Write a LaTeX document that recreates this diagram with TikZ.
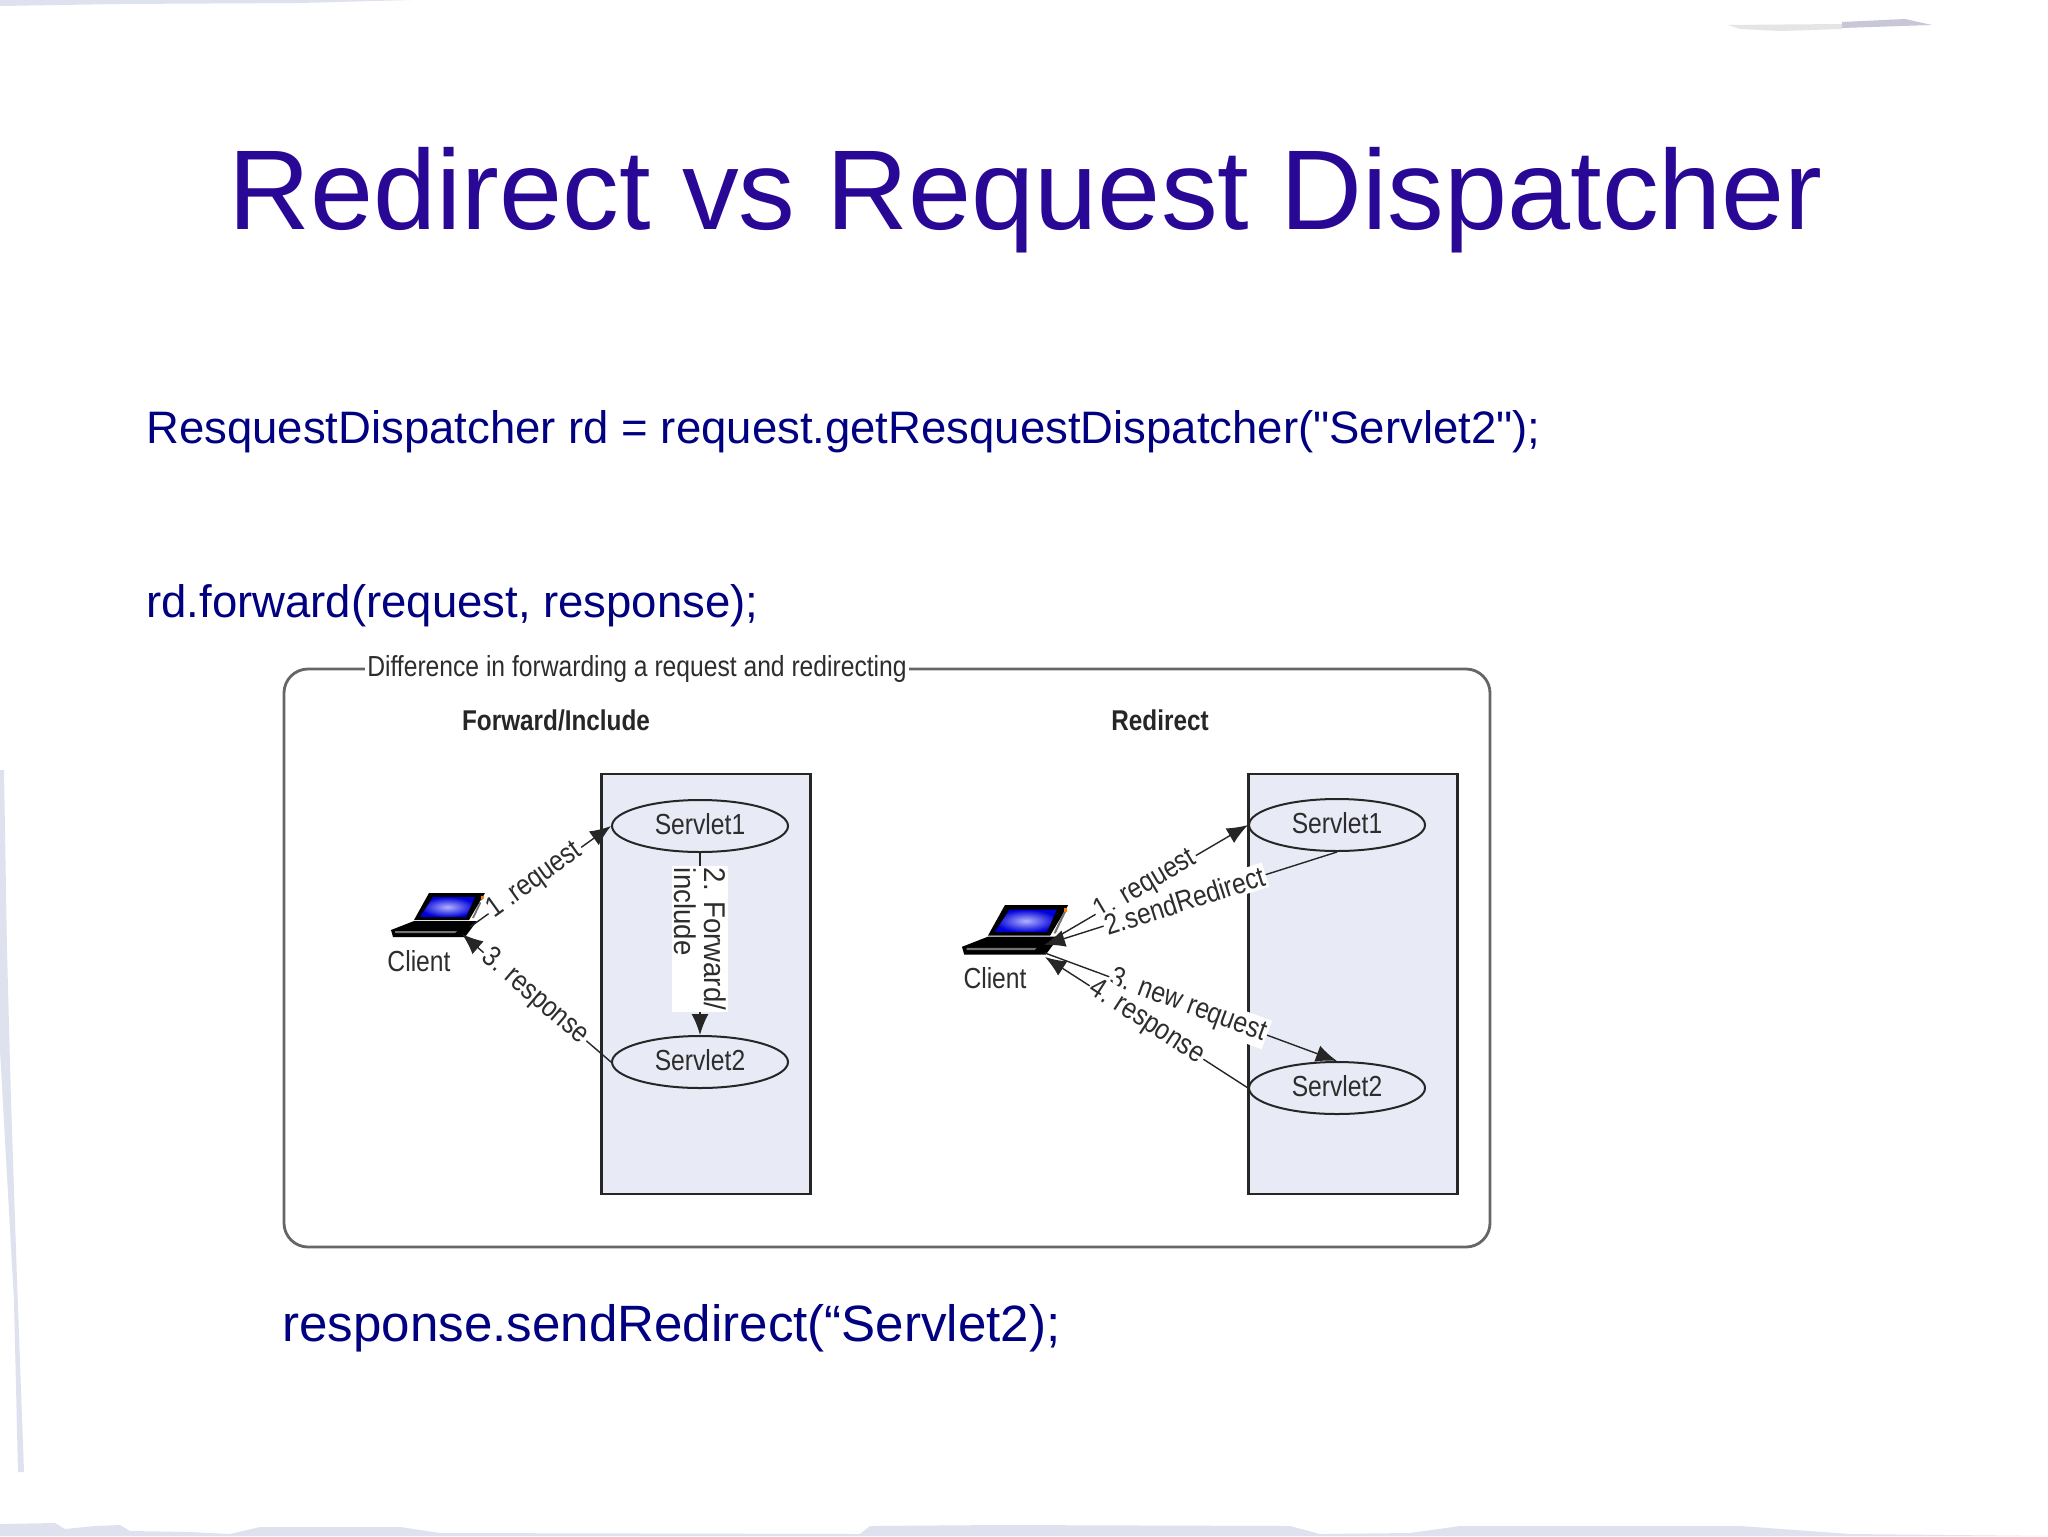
\documentclass[tikz,border=0pt]{standalone}
\usepackage{fontspec}
\setmainfont{Liberation Sans}
\newfontfamily\plainquote{Liberation Sans}
\newfontfamily\diagfont[FakeStretch=0.85]{Liberation Sans}
\newfontfamily\fwdfont[FakeStretch=0.92]{Liberation Sans}
\usetikzlibrary{shapes.geometric,arrows.meta}
\definecolor{titleblue}{RGB}{42,8,150}
\definecolor{bodyblue}{RGB}{0,0,128}
\definecolor{panelfill}{RGB}{232,235,245}
\definecolor{edgestroke}{RGB}{222,226,238}
\definecolor{difftext}{RGB}{45,45,45}
\tikzset{
  x=0.5pt,y=-0.5pt,
  titletext/.style={anchor=base west,inner sep=0,text=titleblue,font=\fontsize{56.7}{64}\selectfont},
  bodytext/.style={anchor=base west,inner sep=0,text=bodyblue,font=\fontsize{22.75}{28}\selectfont},
  bigtext/.style={anchor=base west,inner sep=0,text=bodyblue,font=\fontsize{25.55}{30}\selectfont},
  outerbox/.style={draw=black!60,line width=1.4pt,rounded corners=12pt,fill=white},
  panel/.style={draw=black!85,line width=1.1pt,fill=panelfill},
  servlet/.style={ellipse,draw=black!85,line width=1pt,fill=panelfill,minimum width=88pt,minimum height=26pt,inner sep=0,text depth=2pt,text=difftext,font=\diagfont\fontsize{14.5}{16}\selectfont},
  difflabel/.style={inner sep=1pt,text=difftext,font=\diagfont\fontsize{14.5}{16}\selectfont},
  headlabel/.style={inner sep=0,text=black!85,font=\diagfont\bfseries\fontsize{14.3}{16}\selectfont},
  onlabel/.style={fill=white,inner sep=1pt,text=difftext,font=\diagfont\fontsize{14.5}{16}\selectfont},
  conn/.style={draw=black!85,line width=0.7pt},
  arrowconn/.style={conn,-{Latex[length=10.5pt,width=8.5pt]}},
  pics/laptop/.style={code={
    \fill[black] (23,27)--(38,0)--(94,0)--(78,27)--cycle;
    \shade[inner color=blue!30!white,outer color=blue!85!black] (29,24)--(42,4)--(84,4)--(75,24)--cycle;
    \fill[black!55!white] (81,25)--(91,4)--(93,4)--(83,25)--cycle;
    \fill[orange] (90,3) rectangle (93,6);
    \fill[black] (0,37)--(23,28)--(86,28)--(74,44)--(2,44)--cycle;
    \fill[black!55] (4,38)--(66,38)--(64,40)--(4,40)--cycle;
  }},
}
\begin{document}
\begin{tikzpicture}
\useasboundingbox (0,0) rectangle (2048,1536);
\fill[white] (0,0) rectangle (2048,1536);
% faint slide-edge strokes
\fill[edgestroke] (0,0) -- (412,0) -- (300,3) -- (120,4) -- (0,6) -- cycle;
\fill[black!10] (1728,25) -- (1842,24) -- (1842,29) -- (1780,31) -- (1740,29) -- cycle;
\fill[blue!30!black!22] (1842,22) -- (1905,19) -- (1932,25) -- (1842,28) -- cycle;
\fill[edgestroke] (0,770) -- (4,770) -- (7,950) -- (11,1100) -- (17,1280) -- (24,1472) -- (18,1472) -- (14,1300) -- (5,1140) -- (0,1050) -- cycle;
\fill[edgestroke] (0,1536) -- (0,1524) -- (55,1523) -- (65,1529) -- (95,1526) -- (120,1525) -- (130,1531) -- (190,1532) -- (230,1534) -- (260,1527) -- (400,1527) -- (440,1533) -- (860,1534) -- (870,1526) -- (1000,1525) -- (1290,1526) -- (1320,1534) -- (1410,1533) -- (1460,1526) -- (1740,1526) -- (1850,1534) -- (2048,1536) -- cycle;

\node[titletext] (title) at (228,229) {Redirect vs Request Dispatcher};
\node[bodytext] (line1) at (146,443) {ResquestDispatcher rd = request.getResquestDispatcher({\plainquote "}Servlet2{\plainquote "});};
\node[bodytext] (line2) at (146,617) {rd.forward(request, response);};
\node[bigtext] (line3) at (282,1341) {response.sendRedirect(“Servlet2);};

\draw[outerbox] (284,669) rectangle (1490,1247);
\node[fill=white,inner xsep=1pt,inner ysep=2pt,text=difftext,font=\diagfont\fontsize{14.5}{16}\selectfont] (difftitle) at (637,669) {Difference in forwarding a request and redirecting};
\node[headlabel] (headfwd) at (556,720) {Forward/Include};
\node[headlabel] (headred) at (1160,720) {Redirect};

\node[panel,minimum width=104.5pt,minimum height=210pt,inner sep=0] (panelL) at (706,984) {};
\node[panel,minimum width=104.5pt,minimum height=210pt,inner sep=0] (panelR) at (1353,984) {};

\node[servlet] (s1L) at (700,826) {Servlet1};
\node[servlet] (s2L) at (700,1062) {Servlet2};
\node[servlet] (s1R) at (1337,825) {Servlet1};
\node[servlet] (s2R) at (1337,1088) {Servlet2};

% left client
\pic at (391,893) {laptop};
\node[difflabel] (clientL) at (419,961) {Client};
\coordinate (lapLout) at (470,927);
\coordinate (lapLin) at (462,934);
\draw[arrowconn] (lapLout) -- (s1L.west) node[onlabel,pos=0.46,sloped] {1 .request};
\draw[arrowconn] (s2L.west) -- (lapLin) node[onlabel,pos=0.51,sloped] {3. response};
\draw[arrowconn] (s1L.south) -- (s2L.north);
\node[onlabel,rotate=-90,align=left,font=\fwdfont\fontsize{15}{15}\selectfont] (fwd) at (700,939) {2. Forward/\\include};

% right client
\pic[scale=1.13] at (962,905) {laptop};
\node[difflabel] (clientR) at (995,978) {Client};
\coordinate (lapRa) at (1062,934);
\coordinate (lapRb) at (1044,945);
\coordinate (lapRc) at (1045,953);
\coordinate (lapRd) at (1045,957);
\draw[arrowconn] (lapRa) -- (s1R.west) node[onlabel,pos=0.45,sloped] {1. request};
\draw[arrowconn] (s1R.south) -- (lapRb) node[onlabel,pos=0.52,sloped,inner ysep=1pt] {2.sendRedirect};
\draw[arrowconn] (lapRc) -- (s2R.north) node[onlabel,pos=0.49,sloped] {3. new request};
\draw[arrowconn] (s2R.west) -- (lapRd) node[onlabel,pos=0.5,sloped] {4. response};
\end{tikzpicture}
\end{document}
